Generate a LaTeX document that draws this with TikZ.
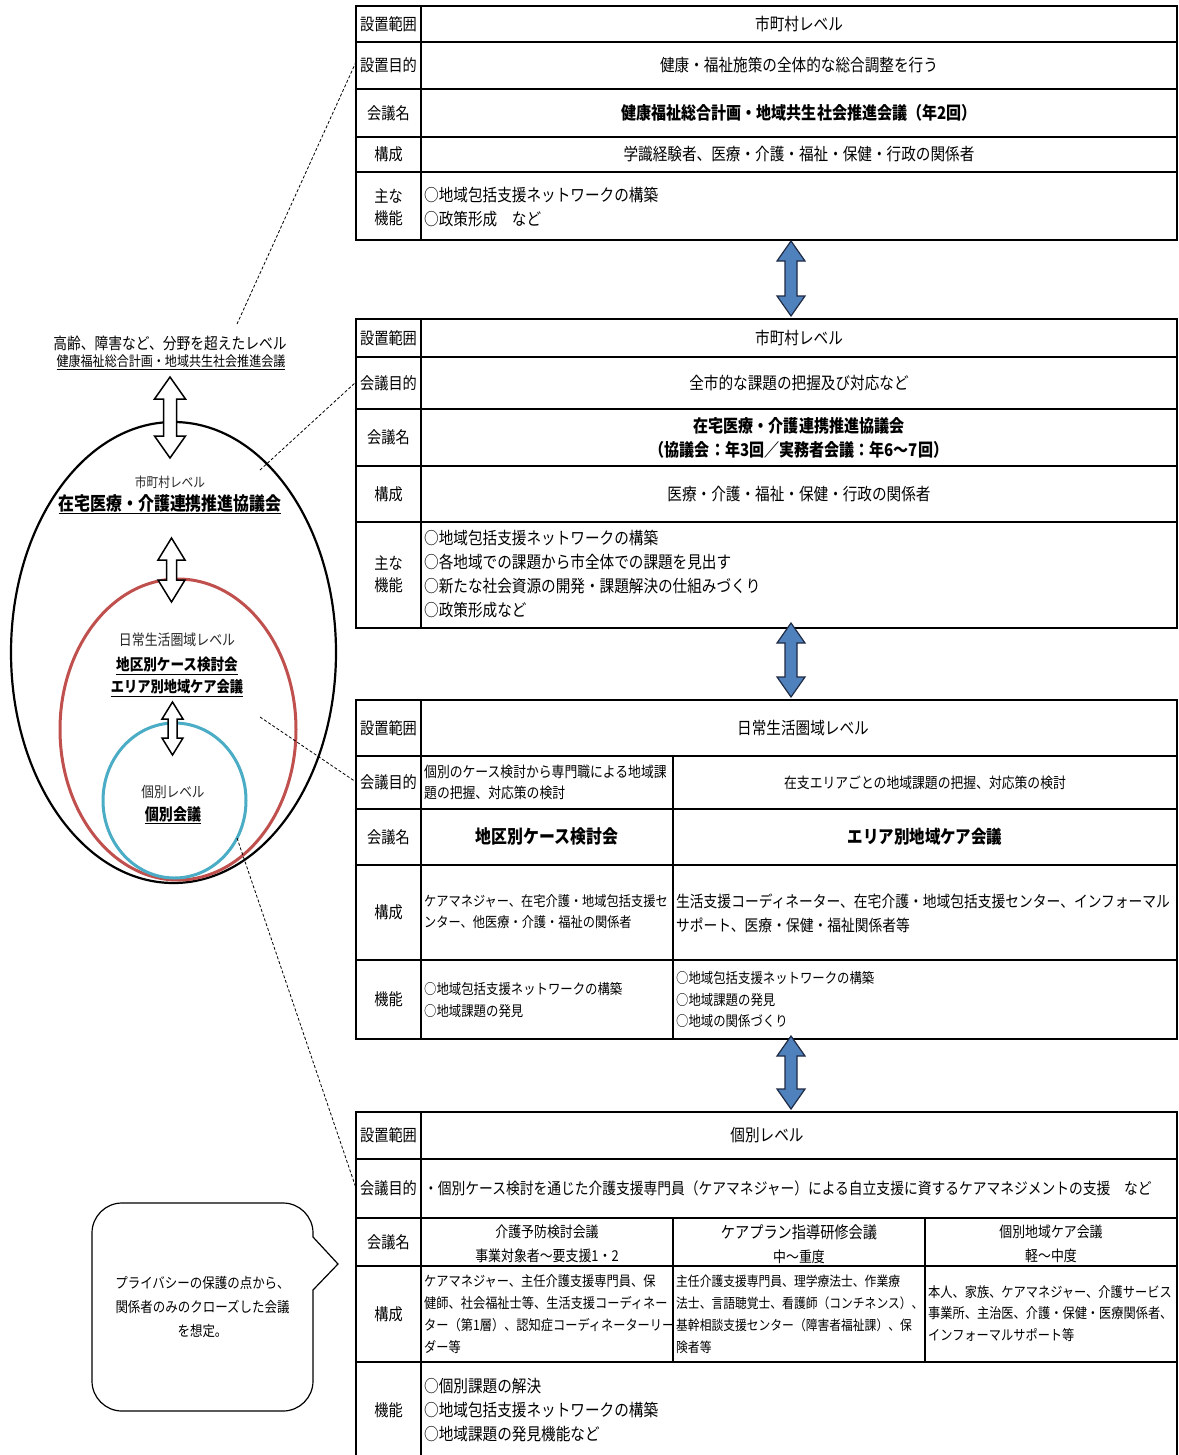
\documentclass[tikz,border=0pt]{standalone}
\usepackage{fontspec}
\setmainfont{Noto Sans CJK JP}[FakeStretch=0.86]
\definecolor{arrowblue}{HTML}{4F81BD}
\definecolor{arrowedge}{HTML}{1F2A44}
\definecolor{ringred}{HTML}{C0504D}
\definecolor{ringblue}{HTML}{4BACC6}
\newcommand\fz[2]{\fontsize{#1}{#2}\selectfont}
% double arrow: style, x, ytop, ybottom, shaft half width, head half width, head length
\newcommand\dArrow[7]{%
  \draw[#1] (#2,#3) -- (#2+#6,#3+#7) -- (#2+#5,#3+#7) -- (#2+#5,#4-#7) -- (#2+#6,#4-#7)
    -- (#2,#4) -- (#2-#6,#4-#7) -- (#2-#5,#4-#7) -- (#2-#5,#3+#7) -- (#2-#6,#3+#7) -- cycle;}
\begin{document}
\begin{tikzpicture}[x=1pt,y=-1pt,
  tbl/.style={line width=1.6pt},
  lab/.style={font=\fz{16.5}{22}, align=center, inner sep=0pt},
  txt/.style={font=\fz{17}{24}, align=center, inner sep=0pt},
  txtl/.style={font=\fz{17}{24}, align=left, anchor=west, inner sep=0pt},
  bld/.style={font=\fz{17.5}{24}\bfseries, align=center, inner sep=0pt},
  ring/.style={font=\fz{14}{20}, text=black!85, inner sep=0pt},
  ringb/.style={inner sep=0pt, align=center},
  bluearrow/.style={fill=arrowblue, draw=arrowedge, line width=1.2pt, line join=miter},
  hollowarrow/.style={fill=white, draw=black, line width=1.5pt, line join=miter},
  leader/.style={draw=black, line width=0.8pt, dash pattern=on 3pt off 2pt}]
\useasboundingbox (0,0) rectangle (1178,1455);
\fill[white] (0,0) rectangle (1178,1455);

% ================= Table 1 =================
\draw[tbl] (356,6) rectangle (1177,240);
\draw[tbl] (421,6) -- (421,240);
\foreach \yy in {42,89,137,172} \draw[tbl] (356,\yy) -- (1177,\yy);
\node[lab] (t1a) at (388.5,24) {設置範囲};
\node[txt] (t1av) at (799,24) {市町村レベル};
\node[lab] (t1b) at (388.5,65.5) {設置目的};
\node[txt] (t1bv) at (799,65.5) {健康・福祉施策の全体的な総合調整を行う};
\node[lab] (t1c) at (388.5,113) {会議名};
\node[bld] (t1cv) at (799,113) {健康福祉総合計画・地域共生社会推進会議（年2回）};
\node[lab] (t1d) at (388.5,154.5) {構成};
\node[txt] (t1dv) at (799,154.5) {学識経験者、医療・介護・福祉・保健・行政の関係者};
\node[lab] (t1e) at (388.5,207) {主な\\機能};
\node[txtl] (t1ev) at (424,207) {○地域包括支援ネットワークの構築\\○政策形成　など};

% ================= Table 2 =================
\draw[tbl] (356,319) rectangle (1177,628);
\draw[tbl] (421,319) -- (421,628);
\foreach \yy in {357,409,466,522} \draw[tbl] (356,\yy) -- (1177,\yy);
\node[lab] (t2a) at (388.5,338) {設置範囲};
\node[txt] (t2av) at (799,338) {市町村レベル};
\node[lab] (t2b) at (388.5,383) {会議目的};
\node[txt] (t2bv) at (799,383) {全市的な課題の把握及び対応など};
\node[lab] (t2c) at (388.5,437.5) {会議名};
\node[bld] (t2cv) at (799,438) {在宅医療・介護連携推進協議会\\（協議会：年3回／実務者会議：年6～7回）};
\node[lab] (t2d) at (388.5,494) {構成};
\node[txt] (t2dv) at (799,494) {医療・介護・福祉・保健・行政の関係者};
\node[lab] (t2e) at (388.5,574) {主な\\機能};
\node[txtl] (t2ev) at (424,574) {○地域包括支援ネットワークの構築\\○各地域での課題から市全体での課題を見出す\\○新たな社会資源の開発・課題解決の仕組みづくり\\○政策形成など};

% ================= Table 3 =================
\draw[tbl] (356,700) rectangle (1177,1039);
\draw[tbl] (421,700) -- (421,1039);
\draw[tbl] (673,756) -- (673,1039);
\foreach \yy in {756,809,865,960} \draw[tbl] (356,\yy) -- (1177,\yy);
\node[lab] (t3a) at (388.5,728) {設置範囲};
\node[txt] (t3av) at (803,728) {日常生活圏域レベル};
\node[lab] (t3b) at (388.5,782.5) {会議目的};
\node[txtl, font=\fz{14.9}{21}] (t3bl) at (424,782.5) {個別のケース検討から専門職による地域課\\題の把握、対応策の検討};
\node[txt, font=\fz{14.9}{21}] (t3br) at (925,782.5) {在支エリアごとの地域課題の把握、対応策の検討};
\node[lab] (t3c) at (388.5,837) {会議名};
\node[bld, font=\fz{18.5}{24}\bfseries] (t3cl) at (547,837) {地区別ケース検討会};
\node[bld, font=\fz{18}{24}\bfseries] (t3cr) at (925,837) {エリア別地域ケア会議};
\node[lab] (t3d) at (388.5,912.5) {構成};
\node[txtl, font=\fz{14.2}{21}] (t3dl) at (424,911.5) {ケアマネジャー、在宅介護・地域包括支援セ\\ンター、他医療・介護・福祉の関係者};
\node[txtl, font=\fz{16}{24}] (t3dr) at (676,913) {生活支援コーディネーター、在宅介護・地域包括支援センター、インフォーマル\\サポート、医療・保健・福祉関係者等};
\node[lab] (t3e) at (388.5,999.5) {機能};
\node[txtl, font=\fz{14.4}{22}] (t3el) at (424,1000) {○地域包括支援ネットワークの構築\\○地域課題の発見};
\node[txtl, font=\fz{14.4}{21.5}] (t3er) at (676,999.5) {○地域包括支援ネットワークの構築\\○地域課題の発見\\○地域の関係づくり};

% ================= Table 4 =================
\draw[tbl] (356,1456) -- (356,1112) -- (1177,1112) -- (1177,1456);
\draw[tbl] (421,1112) -- (421,1456);
\draw[tbl] (673,1218) -- (673,1362);
\draw[tbl] (925,1218) -- (925,1362);
\foreach \yy in {1159,1218,1266,1362} \draw[tbl] (356,\yy) -- (1177,\yy);
\node[lab] (t4a) at (388.5,1135.5) {設置範囲};
\node[txt] (t4av) at (767,1135.5) {個別レベル};
\node[lab] (t4b) at (388.5,1188.5) {会議目的};
\node[txtl, font=\fz{16}{24}] (t4bv) at (424,1188.5) {・個別ケース検討を通じた介護支援専門員（ケアマネジャー）による自立支援に資するケアマネジメントの支援　など};
\node[lab] (t4c) at (388.5,1242) {会議名};
\node[txt, font=\fz{15}{24}] (t4c1) at (547,1244) {介護予防検討会議\\事業対象者～要支援1・2};
\node[txt, font=\fz{15}{24}] (t4c2) at (799,1244) {{\fz{16.5}{24}ケアプラン指導研修会議}\\中～重度};
\node[txt, font=\fz{15}{24}] (t4c3) at (1051,1244) {個別地域ケア会議\\軽～中度};
\node[lab] (t4d) at (388.5,1314) {構成};
\node[txtl, font=\fz{14.2}{22}] (t4d1) at (424,1314) {ケアマネジャー、主任介護支援専門員、保\\健師、社会福祉士等、生活支援コーディネー\\ター（第1層）、認知症コーディネーターリー\\ダー等};
\node[txtl, font=\fz{13.7}{22}] (t4d2) at (676,1314) {主任介護支援専門員、理学療法士、作業療\\法士、言語聴覚士、看護師（コンチネンス）、\\基幹相談支援センター（障害者福祉課）、保\\険者等};
\node[txtl, font=\fz{14.2}{21.5}] (t4d3) at (928,1313.5) {本人、家族、ケアマネジャー、介護サービス\\事業所、主治医、介護・保健・医療関係者、\\インフォーマルサポート等};
\node[lab] (t4e) at (388.5,1410) {機能};
\node[txtl] (t4ev) at (424,1410) {○個別課題の解決\\○地域包括支援ネットワークの構築\\○地域課題の発見機能など};

% ================= blue arrows between tables =================
\dArrow{bluearrow}{791}{241}{316}{6}{14}{20}
\dArrow{bluearrow}{791}{623}{697}{6}{14}{20}
\dArrow{bluearrow}{791}{1036}{1109}{6}{14}{20}

% ================= left nested rings =================
\draw[line width=2.2pt, black] (173.5,652.5) ellipse [x radius=162.5, y radius=230.5];
\draw[line width=3pt, ringred] (178,729.5) ellipse [x radius=118, y radius=150.5];
\draw[line width=3pt, ringblue] (174.5,800.5) ellipse [x radius=71.5, y radius=77.5];

\dArrow{hollowarrow}{170}{377}{458}{6.5}{15.5}{22}
\dArrow{hollowarrow}{171.5}{538}{602}{5}{13.5}{22}
\dArrow{hollowarrow}{172.5}{702}{755}{4.5}{10.5}{17}

\node[ringb, font=\fz{16}{20}] (topl) at (170,343) {高齢、障害など、分野を超えたレベル};
\node[ringb, font=\fz{14}{20}] (topn) at (171,362) {\underline{健康福祉総合計画・地域共生社会推進会議}};
\node[ring, font=\fz{13.6}{20}] (cityl) at (170,482) {市町村レベル};
\node[ringb, font=\fz{18.5}{24}\bfseries] (cityn) at (170,504) {\underline{在宅医療・介護連携推進協議会}};
\node[ring, font=\fz{15}{20}] (areal) at (177,640) {日常生活圏域レベル};
\node[ringb, font=\fz{15.8}{22}\bfseries] (arean1) at (177,666) {\underline{地区別ケース検討会}};
\node[ringb, font=\fz{15.4}{22}\bfseries] (arean2) at (177,688) {\underline{エリア別地域ケア会議}};
\node[ring, font=\fz{14.7}{20}] (indl) at (173,792) {個別レベル};
\node[ringb, font=\fz{16.3}{22}\bfseries] (indn) at (173,815) {\underline{個別会議}};

% ================= dashed leaders =================
\coordinate (d1s) at (237,324);  \coordinate (d1e) at (356,62);
\coordinate (d2s) at (260,470);  \coordinate (d2e) at (356,382);
\coordinate (d3s) at (260,717);  \coordinate (d3e) at (356,782);
\coordinate (d4s) at (237,838);  \coordinate (d4e) at (356,1188);
\draw[leader] (d1s) -- (d1e);
\draw[leader] (d2s) -- (d2e);
\draw[leader] (d3s) -- (d3e);
\draw[leader] (d4s) -- (d4e);

% ================= speech bubble =================
\draw[line width=1.2pt, fill=white]
  (122,1203) -- (283,1203) arc[start angle=-90, end angle=0, radius=30]
  -- (313,1237) -- (338,1264) -- (313,1290) -- (313,1381)
  arc[start angle=0, end angle=90, radius=30] -- (122,1411)
  arc[start angle=90, end angle=180, radius=30] -- (92,1233)
  arc[start angle=180, end angle=270, radius=30] -- cycle;
\node[ringb, font=\fz{14.5}{24}] (bubble) at (202.5,1307) {プライバシーの保護の点から、\\関係者のみのクローズした会議\\を想定。};
\end{tikzpicture}
\end{document}
